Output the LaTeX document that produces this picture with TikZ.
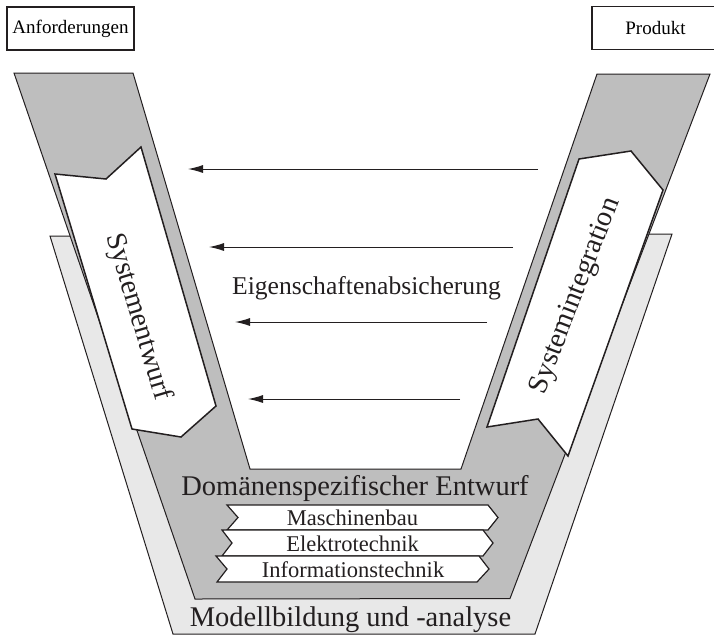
\documentclass[tikz,border=0pt]{standalone}
\usepackage{fontspec}
\setmainfont{Liberation Serif}
\usetikzlibrary{arrows.meta}
\definecolor{bandcolor}{RGB}{190,190,190}
\definecolor{basecolor}{RGB}{232,232,232}
\definecolor{linecolor}{RGB}{35,31,32}

\begin{document}
\begin{tikzpicture}[
    x=1pt, y=-1pt,
    baseband/.style={draw=linecolor, line width=1pt, fill=basecolor},
    domband/.style={draw=linecolor, line width=1pt, fill=bandcolor},
    phasearrow/.style={draw=linecolor, line width=1.5pt, fill=white},
    domstrip/.style={draw=linecolor, line width=1.2pt, fill=white},
    endbox/.style={draw=linecolor, line width=1.4pt, minimum width=127pt, minimum height=43pt, font=\fontsize{19}{22}\selectfont},
    check/.style={-{Latex[length=15pt, width=8pt]}, line width=1pt, linecolor},
    bigtext/.style={font=\fontsize{28.5}{32}\selectfont, text=linecolor},
    midtext/.style={font=\fontsize{25.6}{30}\selectfont, text=linecolor},
    smalltext/.style={font=\fontsize{22.5}{26}\selectfont, text=linecolor}
]
    \clip (0,0) rectangle (714,635);

    % Bands of the V
    \draw[baseband] (50,236) -- (80,236) -- (200,590) -- (505,590) -- (640,234) -- (672,234) -- (535,634) -- (173,634) -- cycle;
    \draw[domband] (14,73) -- (133,73) -- (250,469) -- (461,469) -- (597,74) -- (710,74) -- (510,598.5) -- (195,599) -- cycle;

    % Phases
    \draw[phasearrow] (55,174) -- (106,179) -- (141,147) -- (216,406) -- (181,437) -- (132,429) -- cycle;
    \draw[phasearrow] (579,159) -- (631,151) -- (663,190) -- (568,456) -- (538,419) -- (487,427) -- cycle;
    \node[bigtext, rotate=-73.5] (entwurf) at (138,317) {Systementwurf};
    \node[bigtext, rotate=69] (integration) at (576,296) {Systemintegration};

    % Domains
    \draw[domstrip] (227,505) -- (488,505) -- (498,517.5) -- (488,530) -- (227,530) -- (238,517.5) -- cycle;
    \draw[domstrip] (222,530) -- (483,530) -- (493,543) -- (483,556) -- (222,556) -- (232,543) -- cycle;
    \draw[domstrip] (216,556) -- (479,556) -- (489,569) -- (477,582) -- (217,582) -- (227,569) -- cycle;
    \node[smalltext, anchor=base] (mb) at (352.5,525.5) {Maschinenbau};
    \node[smalltext, anchor=base] (et) at (352.5,551.5) {Elektrotechnik};
    \node[smalltext, anchor=base] (it) at (353,577.5) {Informationstechnik};
    \node[bigtext, anchor=base] (dse) at (355,495) {Domänenspezifischer Entwurf};
    \node[bigtext, anchor=base] (model) at (350.5,626.5) {Modellbildung und -analyse};

    % Property assurance
    \node[midtext, anchor=base] (eig) at (366.5,294) {Eigenschaftenabsicherung};
    \foreach \i/\y/\xs/\xe in {1/169/538/188, 2/247/513/209, 3/322/487/235, 4/399/460/248} {
        \coordinate (s\i) at (\xs,\y);
        \coordinate (e\i) at (\xe,\y);
        \draw[check] (s\i) -- (e\i);
    }

    % Start and end
    \node[endbox] (anf) at (70.5,28.5) {Anforderungen};
    \node[endbox] (prod) at (655.5,28) {Produkt};
\end{tikzpicture}
\end{document}
